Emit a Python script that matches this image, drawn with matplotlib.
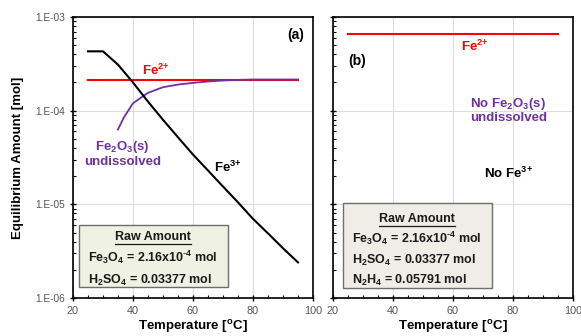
import math
import matplotlib
matplotlib.use('Agg')
import matplotlib.pyplot as plt
from matplotlib.ticker import FuncFormatter, LogLocator, MultipleLocator
from matplotlib.patches import Rectangle

plt.rcParams['font.family'] = ['Liberation Sans', 'DejaVu Sans']
plt.rcParams['mathtext.fontset'] = 'custom'
plt.rcParams['mathtext.rm'] = 'Liberation Sans:bold'
plt.rcParams['mathtext.bf'] = 'Liberation Sans:bold'
plt.rcParams['mathtext.it'] = 'Liberation Sans:bold'
plt.rcParams['mathtext.default'] = 'bf'

# (a) Fe3O4 + H2SO4
temp_fe3 = [25, 30, 35, 40, 45, 50, 55, 60, 65, 70, 75, 80, 85, 90, 95]
fe3 = [4.3e-4, 4.3e-4, 3.1e-4, 2.0e-4, 1.25e-4, 8.0e-5, 5.2e-5, 3.4e-5,
       2.3e-5, 1.55e-5, 1.05e-5, 7.0e-6, 4.9e-6, 3.4e-6, 2.4e-6]
temp_fe2a = [25, 95]
fe2a = [2.15e-4, 2.15e-4]
temp_oxide = [35, 37, 40, 45, 50, 55, 60, 65, 70, 75, 80, 85, 90, 95]
oxide = [6.3e-5, 8.5e-5, 1.2e-4, 1.55e-4, 1.78e-4, 1.9e-4, 1.98e-4,
         2.05e-4, 2.1e-4, 2.13e-4, 2.15e-4, 2.15e-4, 2.15e-4, 2.15e-4]

# (b) with N2H4
temp_fe2b = [25, 95]
fe2b = [6.6e-4, 6.6e-4]

box_a = ['Fe$_3$O$_4$ = 2.16x10$^{\u2010 4}$ mol', 'H$_2$SO$_4$ = 0.03377 mol']
box_b = ['Fe$_3$O$_4$ = 2.16x10$^{\u2010 4}$ mol', 'H$_2$SO$_4$ = 0.03377 mol',
         'N$_2$H$_4$ = 0.05791 mol']

RED = '#ff0000'
PURPLE = '#7030a0'

fig = plt.figure(figsize=(5.81, 3.36), dpi=100)
axa = fig.add_axes([0.1256, 0.1131, 0.4131, 0.8363])
axb = fig.add_axes([0.5731, 0.1131, 0.4131, 0.8363])

fmt = FuncFormatter(lambda v, p: '1.E%+03d' % round(math.log10(v)))

for ax in (axa, axb):
    ax.set_yscale('log')
    ax.set_xlim(20, 100)
    ax.set_ylim(1e-6, 1e-3)
    ax.xaxis.set_major_locator(MultipleLocator(20))
    ax.xaxis.set_minor_locator(MultipleLocator(5))
    ax.yaxis.set_major_locator(LogLocator(base=10))
    ax.yaxis.set_minor_locator(LogLocator(base=10, subs=range(2, 10)))
    ax.yaxis.set_major_formatter(fmt)
    ax.grid(True, which='major', color='#dcdcdc', lw=0.8)
    ax.set_axisbelow(True)
    for s in ax.spines.values():
        s.set_linewidth(1.2)
    ax.tick_params(which='major', direction='inout', length=5, width=1,
                   labelcolor='#555555', pad=3)
    ax.tick_params(axis='x', labelsize=7.8)
    ax.tick_params(axis='y', labelsize=7.3)
    ax.tick_params(which='minor', direction='in', length=2.5, width=0.8)
    ax.tick_params(axis='y', which='both', right=False)
    ax.tick_params(axis='x', which='both', top=False)
    ax.set_xlabel('Temperature [$^{o}$C]', fontsize=9.5, fontweight='bold',
                  labelpad=2)

axb.yaxis.set_major_formatter(FuncFormatter(lambda v, p: ''))
axa.set_ylabel('Equilibrium Amount [mol]', fontsize=9.5, fontweight='bold',
               labelpad=8)

# panel (a)
axa.plot(temp_fe2a, fe2a, color=RED, lw=1.5, zorder=3)
axa.plot(temp_oxide, oxide, color=PURPLE, lw=1.3, zorder=4)
axa.plot(temp_fe3, fe3, color='black', lw=1.5, zorder=5)
axa.text(0.93, 0.935, '(a)', transform=axa.transAxes, fontsize=10,
         fontweight='bold', ha='center', va='center')
axa.text(47.7, 2.7e-4, 'Fe$^{2{+}}$', color=RED, fontsize=9.5,
         fontweight='bold', ha='center', va='center')
axa.text(36.5, 5.0e-5, 'Fe$_2$O$_3$(s)\nundissolved', color=PURPLE,
         fontsize=9.5, fontweight='bold', ha='center', va='top',
         linespacing=1.1)
axa.text(71.7, 2.5e-5, 'Fe$^{3{+}}$', color='black', fontsize=9.5,
         fontweight='bold', ha='center', va='center')

# panel (b)
axb.plot(temp_fe2b, fe2b, color=RED, lw=1.5, zorder=3)
axb.text(0.1, 0.845, '(b)', transform=axb.transAxes, fontsize=10,
         fontweight='bold', ha='center', va='center')
axb.text(0.59, 0.895, 'Fe$^{2{+}}$', transform=axb.transAxes, color=RED,
         fontsize=9.5, fontweight='bold', ha='center', va='center')
axb.text(0.73, 0.67, 'No Fe$_2$O$_3$(s)\nundissolved', transform=axb.transAxes,
         color=PURPLE, fontsize=9.5, fontweight='bold', ha='center',
         va='center', linespacing=1.0)
axb.text(0.73, 0.445, 'No Fe$^{3{+}}$', transform=axb.transAxes, color='black',
         fontsize=9.5, fontweight='bold', ha='center', va='center')

titles = []


def raw_box(ax, x0, y0, x1, y1, face, lines, ytop, dy, xtext, xcenter):
    ax.add_patch(Rectangle((x0, y0), x1 - x0, y1 - y0, transform=ax.transAxes,
                           facecolor=face, edgecolor='#6e6e6e', lw=1.0,
                           zorder=6))
    t = ax.text(xcenter, ytop, 'Raw Amount', transform=ax.transAxes,
                fontsize=9, fontweight='bold', ha='center', va='baseline',
                color='#1a1a1a', zorder=7)
    titles.append((ax, t))
    for i, s in enumerate(lines):
        ax.text(xtext, ytop - dy * (i + 1), s, transform=ax.transAxes,
                fontsize=9, fontweight='bold', ha='left', va='baseline',
                color='#1a1a1a', zorder=7)


raw_box(axa, 0.025, 0.039, 0.646, 0.26, '#eff1e2', box_a, 0.205, 0.077,
        0.0625, 0.333)
raw_box(axb, 0.042, 0.036, 0.6625, 0.338, '#efede5', box_b, 0.269, 0.073,
        0.079, 0.35)

# underline the "Raw Amount" titles
fig.canvas.draw()
for ax, t in titles:
    bb = t.get_window_extent().transformed(ax.transAxes.inverted())
    yl = t.get_position()[1] - 0.012
    ax.plot([bb.x0, bb.x1], [yl, yl], transform=ax.transAxes,
            color='#1a1a1a', lw=0.9, zorder=7)

fig.savefig('out.png', dpi=100)
